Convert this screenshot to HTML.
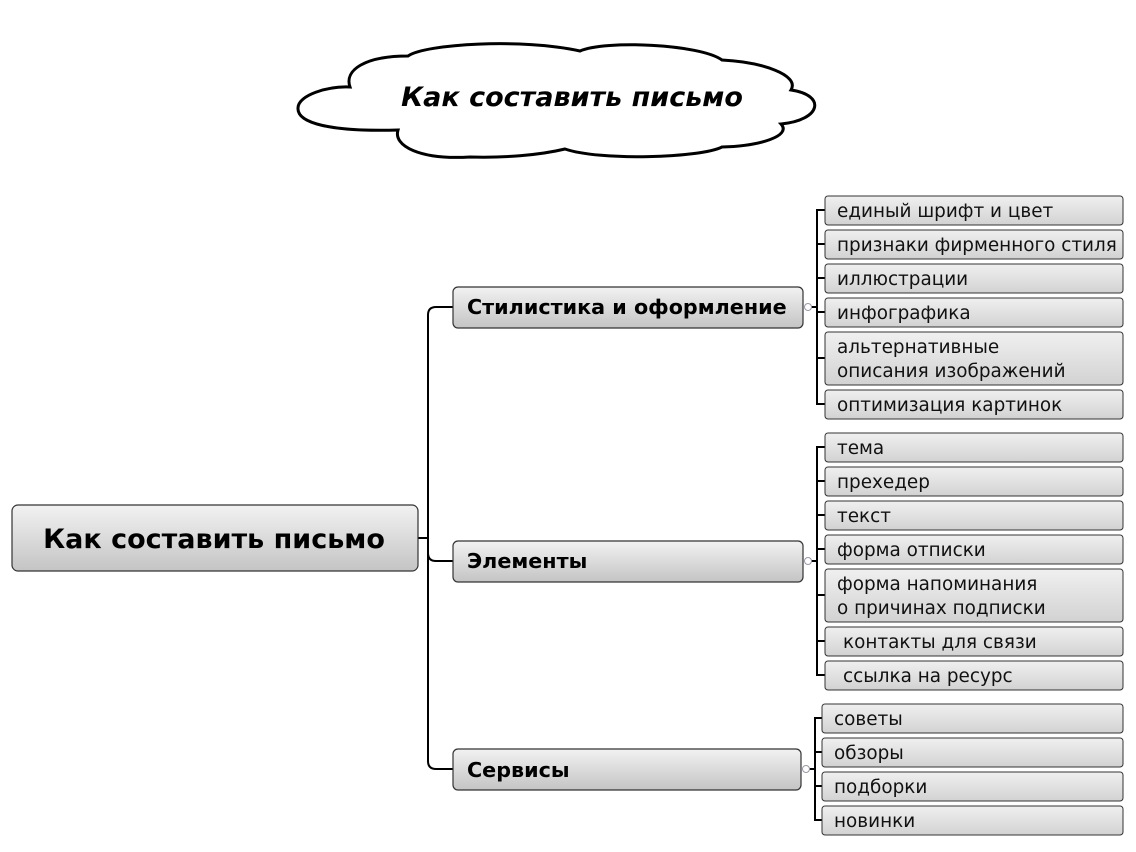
<!DOCTYPE html>
<html><head><meta charset="utf-8"><style>
html,body{margin:0;padding:0;background:#fff;}
svg{display:block;}
text{font-family:"DejaVu Sans","Liberation Sans",sans-serif;}
</style></head><body>
<svg width="1136" height="852" viewBox="0 0 1136 852" xmlns="http://www.w3.org/2000/svg">
<defs>
<linearGradient id="g" x1="0" y1="0" x2="0" y2="1">
<stop offset="0" stop-color="#f2f2f2"/><stop offset="1" stop-color="#c4c4c4"/>
</linearGradient>
<linearGradient id="g2" x1="0" y1="0" x2="0" y2="1">
<stop offset="0" stop-color="#f0f0f0"/><stop offset="1" stop-color="#d2d2d2"/>
</linearGradient>
</defs>
<path d="M350,87 C328,86 298,95 298,108 C297,123 330,132 398,130 C393,146 420,160 470,157 C505,158 540,155 565,149 C600,161 700,158 722,147 C760,146 792,136 781,124 C822,120 826,95 791,90 C800,75 762,62 722,60 C700,44 605,40 580,51 C522,38 425,44 408,56 C365,56 344,70 350,87 Z" fill="#fff" stroke="#000" stroke-width="3"/>
<text x="572" y="106" font-size="27" font-weight="bold" font-style="italic" text-anchor="middle">Как составить письмо</text>

<g fill="none" stroke="#000" stroke-width="2">
<path d="M418,538 H428"/>
<path d="M453,307 H436 Q428,307 428,315 V761 Q428,769 436,769 H453"/>
<path d="M428,553 Q428,561 436,561 H453"/>
<path d="M825,210 H817 V404 H825"/>
<path d="M817,244 H825 M817,278 H825 M817,312 H825 M817,358 H825 M808,307 H817"/>
<path d="M825,447 H817 V675 H825"/>
<path d="M817,481 H825 M817,515 H825 M817,549 H825 M817,595 H825 M817,641 H825 M808,561 H817"/>
<path d="M822,718 H815 V820 H822"/>
<path d="M815,752 H822 M815,786 H822 M806,769 H815"/>
</g>
<g fill="#fff" stroke="#99a" stroke-width="1">
<circle cx="808" cy="307" r="3.5"/><circle cx="808" cy="561" r="3.5"/><circle cx="806" cy="769" r="3.5"/>
</g>

<g stroke="#333" stroke-width="1.2" fill="url(#g)">
<rect x="12" y="505" width="406" height="66" rx="6"/>
<rect x="453" y="287" width="350" height="41" rx="5"/>
<rect x="453" y="541" width="350" height="41" rx="5"/>
<rect x="453" y="749" width="348" height="41" rx="5"/>
</g>
<text x="214" y="548" font-size="27" font-weight="bold" text-anchor="middle">Как составить письмо</text>
<g font-size="20.7" font-weight="bold">
<text x="467" y="314">Стилистика и оформление</text>
<text x="467" y="568">Элементы</text>
<text x="467" y="777">Сервисы</text>
</g>

<g stroke="#333" stroke-width="1" fill="url(#g2)">
<rect x="825" y="196" width="298" height="29" rx="3"/>
<rect x="825" y="230" width="298" height="29" rx="3"/>
<rect x="825" y="264" width="298" height="29" rx="3"/>
<rect x="825" y="298" width="298" height="29" rx="3"/>
<rect x="825" y="332" width="298" height="53" rx="3"/>
<rect x="825" y="390" width="298" height="29" rx="3"/>
<rect x="825" y="433" width="298" height="29" rx="3"/>
<rect x="825" y="467" width="298" height="29" rx="3"/>
<rect x="825" y="501" width="298" height="29" rx="3"/>
<rect x="825" y="535" width="298" height="29" rx="3"/>
<rect x="825" y="569" width="298" height="53" rx="3"/>
<rect x="825" y="627" width="298" height="29" rx="3"/>
<rect x="825" y="661" width="298" height="29" rx="3"/>
<rect x="822" y="704" width="301" height="29" rx="3"/>
<rect x="822" y="738" width="301" height="29" rx="3"/>
<rect x="822" y="772" width="301" height="29" rx="3"/>
<rect x="822" y="806" width="301" height="29" rx="3"/>
</g>
<g font-size="18.4" fill="#111">
<text x="837" y="217">единый шрифт и цвет</text>
<text x="837" y="251">признаки фирменного стиля</text>
<text x="837" y="285">иллюстрации</text>
<text x="837" y="319">инфографика</text>
<text x="837" y="353">альтернативные</text>
<text x="837" y="377">описания изображений</text>
<text x="837" y="411">оптимизация картинок</text>
<text x="837" y="454">тема</text>
<text x="837" y="488">прехедер</text>
<text x="837" y="522">текст</text>
<text x="837" y="556">форма отписки</text>
<text x="837" y="590">форма напоминания</text>
<text x="837" y="614">о причинах подписки</text>
<text x="843" y="648">контакты для связи</text>
<text x="843" y="682">ссылка на ресурс</text>
<text x="834" y="725">советы</text>
<text x="834" y="759">обзоры</text>
<text x="834" y="793">подборки</text>
<text x="834" y="827">новинки</text>
</g>
</svg>
</body></html>
